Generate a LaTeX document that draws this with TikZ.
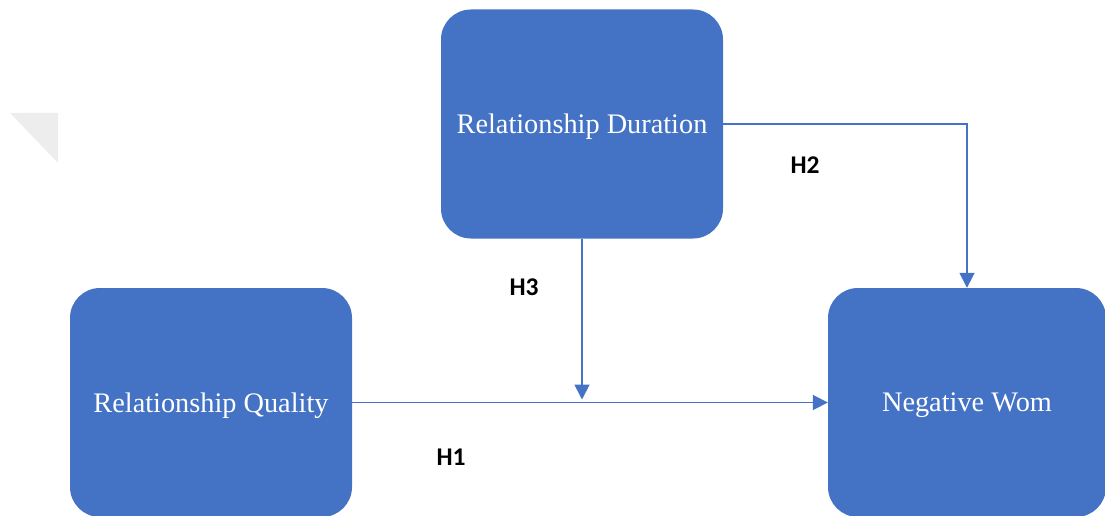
\documentclass[tikz,border=0pt]{standalone}
\usepackage{fontspec}
\setmainfont{Liberation Serif}
\newfontfamily\labelfont{Carlito}
\usetikzlibrary{arrows.meta,calc}
\definecolor{boxblue}{HTML}{4472C4}
\definecolor{fold}{HTML}{EDEDED}
% lower the box text a little while keeping its measured size
\newcommand{\boxtext}[1]{\raisebox{-3pt}[\height][\depth]{#1}}
\begin{document}
\begin{tikzpicture}[x=1pt,y=-1pt,
  block/.style={rectangle, rounded corners=30pt, fill=boxblue, draw=none,
    minimum width=282pt, minimum height=229pt, text=white,
    font=\fontsize{28.3}{32}\selectfont},
  link/.style={draw=boxblue, line width=1.8pt,
    -{Triangle[length=15pt,width=15pt]}},
  hyp/.style={font=\labelfont\bfseries\fontsize{25.5}{29}\selectfont, text=black}]
  \useasboundingbox (0,0) rectangle (1105,516);

  % light corner fold at the left
  \fill[fold] (10,113) -- (58,113) -- (58,163) -- cycle;

  % variable boxes
  \node[block] (dur) at (582,124) {\boxtext{Relationship Duration}};
  \node[block] (qual) at (211,402.5) {\boxtext{Relationship Quality}};
  \node[block, minimum width=278pt] (wom) at (967,402.5) {\boxtext{Negative Wom}};

  % paths between the constructs
  \draw[link] (qual.east) -- (wom.west);
  \draw[link] (dur.east) -| (wom.north);
  \coordinate (mod) at ($(dur.south |- qual.east)+(0,-3)$);
  \draw[link] (dur.south) -- (mod);

  % hypothesis labels
  \node[hyp] (h2) at (805,165) {H2};
  \node[hyp] (h3) at (524,287) {H3};
  \node[hyp] (h1) at (451,457) {H1};
\end{tikzpicture}
\end{document}
